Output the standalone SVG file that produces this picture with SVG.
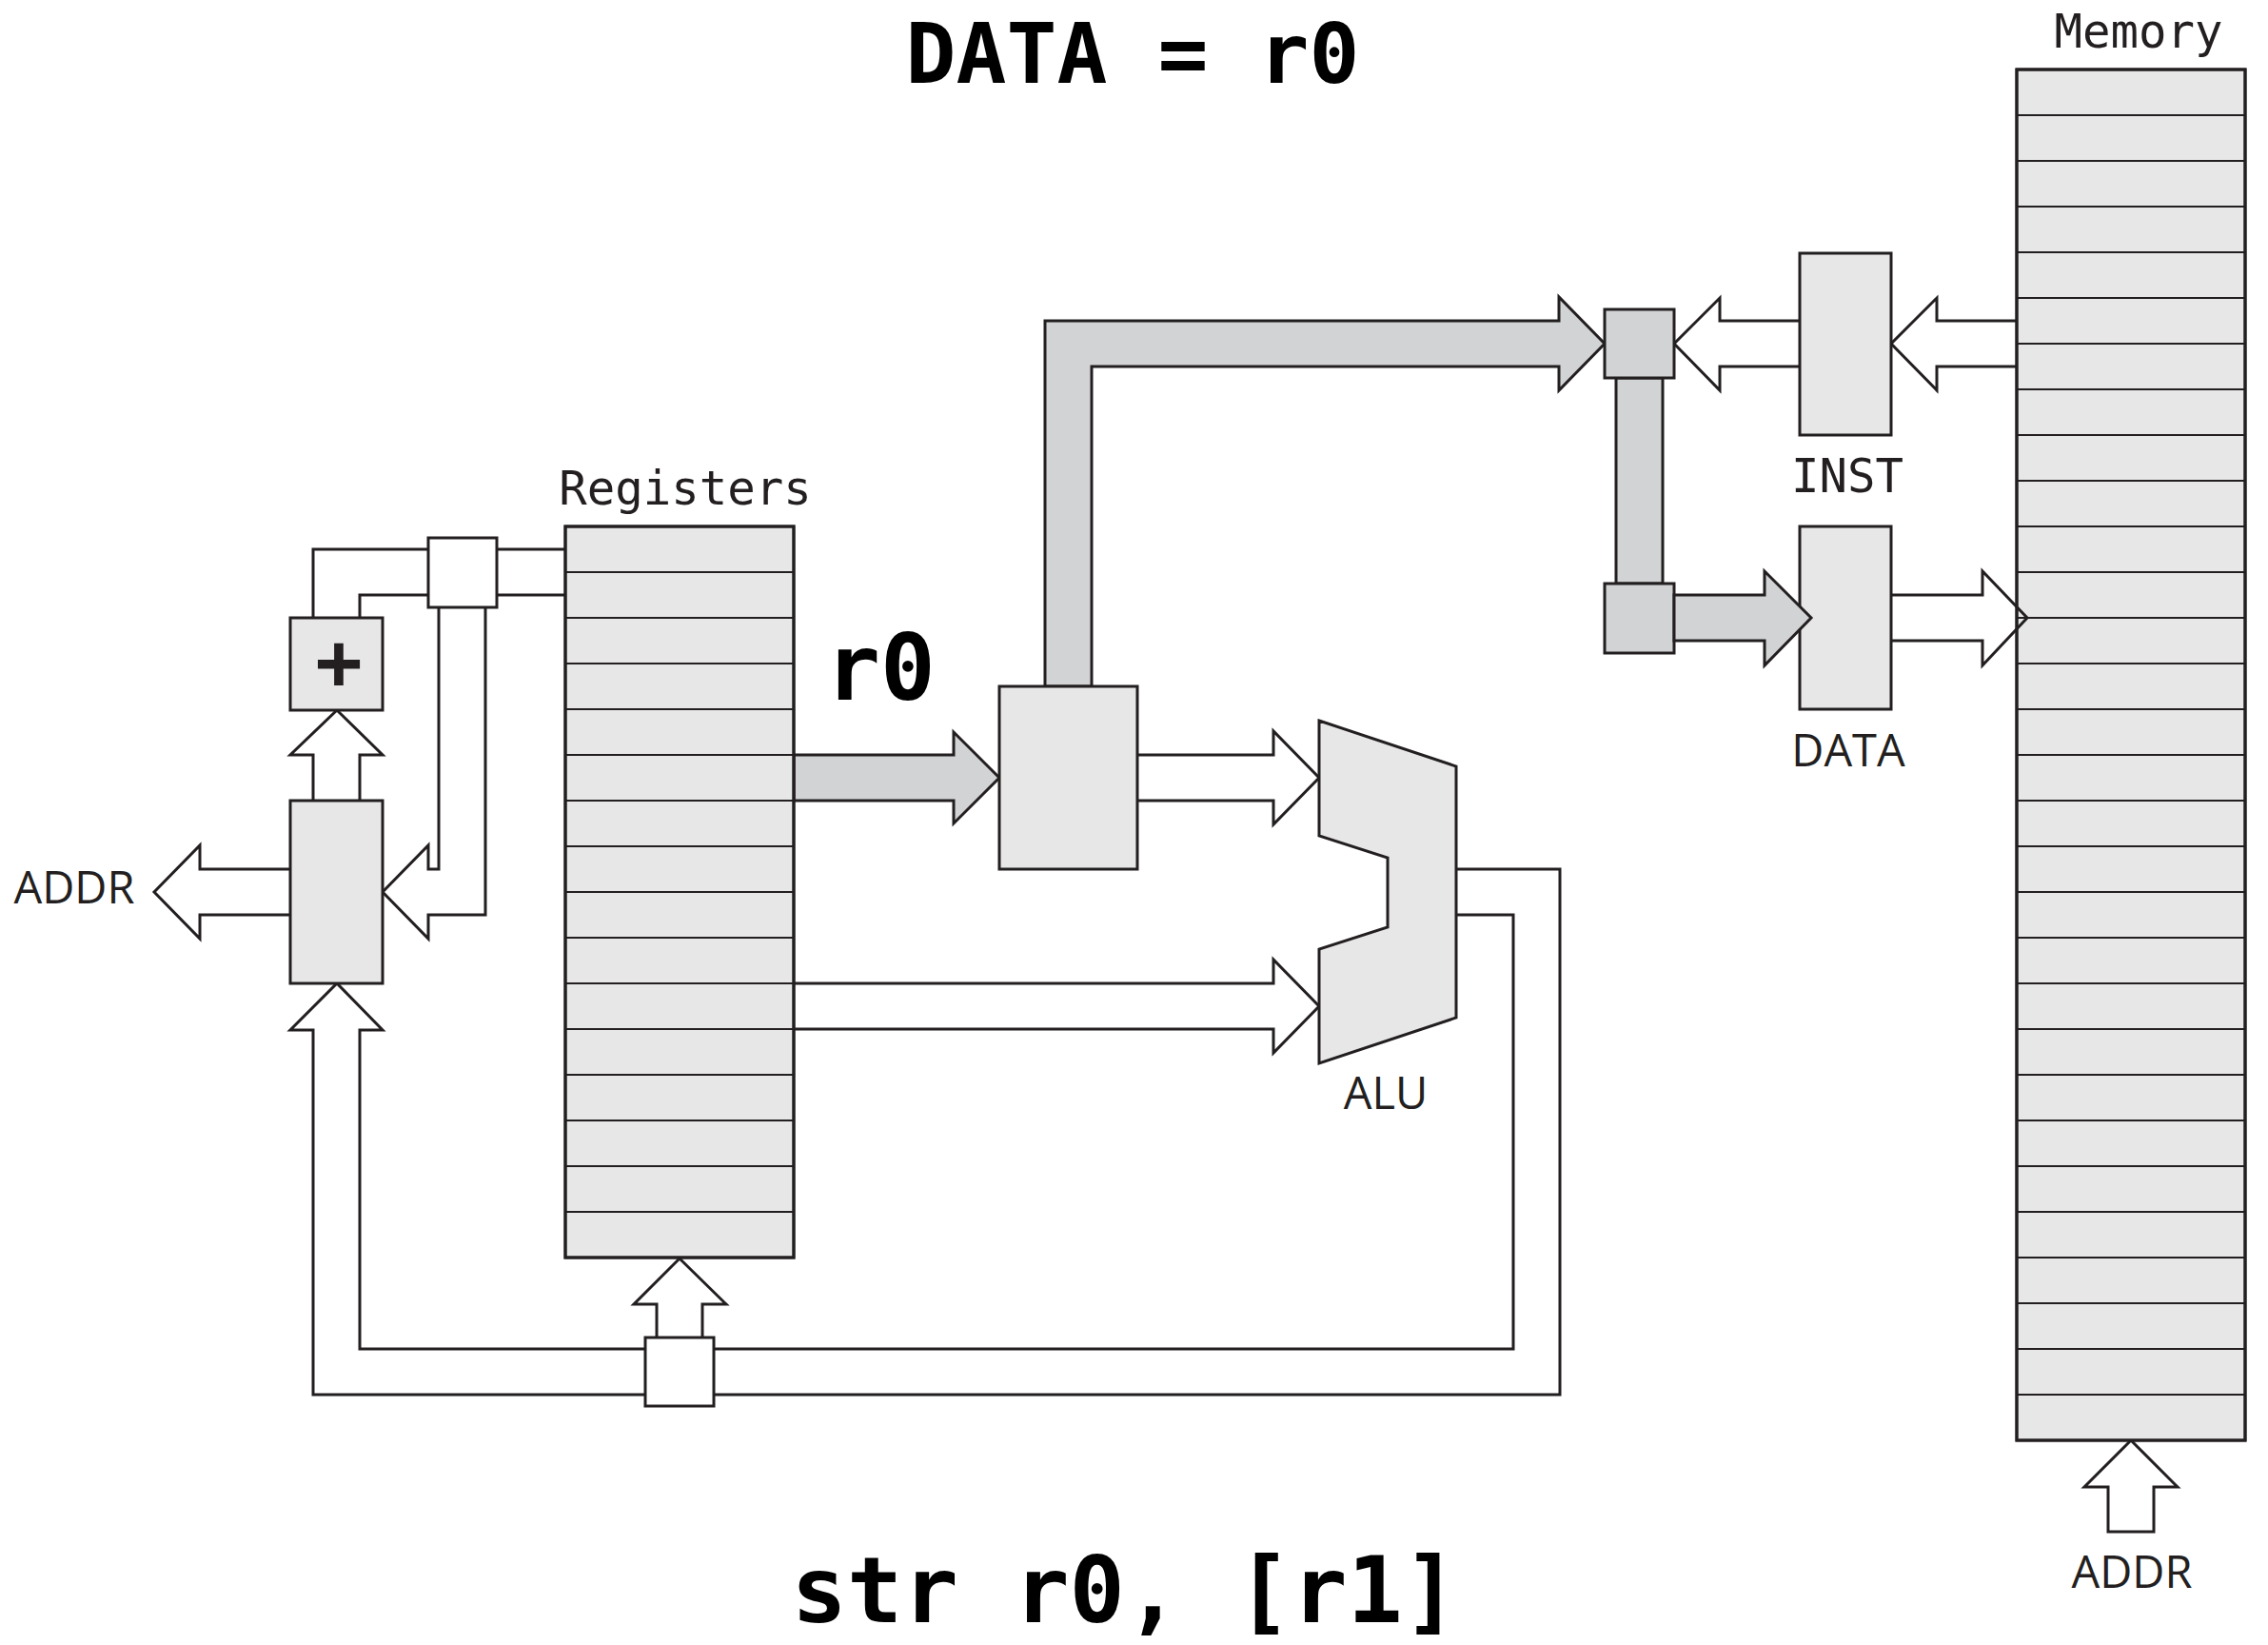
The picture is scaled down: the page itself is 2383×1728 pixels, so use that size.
<svg xmlns="http://www.w3.org/2000/svg" width="2383" height="1728" viewBox="0 0 2383 1728">
<style>
.box{fill:#e6e7e6;stroke:#231f20;stroke-width:3}
.gbox{fill:#d1d3d4;stroke:#231f20;stroke-width:3}
.wbox{fill:#ffffff;stroke:#231f20;stroke-width:3}
.row{stroke:#231f20;stroke-width:2.2}
.ln{fill:none;stroke:#231f20;stroke-width:3;stroke-linejoin:miter}
.gar{fill:#d1d3d4;stroke:#231f20;stroke-width:3;stroke-linejoin:miter}
.mono{font-family:"DejaVu Sans Mono","Liberation Mono",monospace;fill:#231f20}
.sans{font-family:"Open Sans","Noto Sans",sans-serif;fill:#231f20}
.big{font-family:"DejaVu Sans Mono","Liberation Mono",monospace;font-weight:bold;fill:#000}
</style>
<rect width="2383" height="1728" fill="#ffffff"/>

<g id="connectors">
  <polygon class="gar" points="1098,721 1098,337 1638,337 1638,312 1686,361 1638,410 1638,385 1147,385 1147,721"/>
  <polygon class="gar" points="834,793 1002,793 1002,769 1050,817 1002,865 1002,841 834,841"/>
  <path class="ln" d="M1195 793 H1338 V768 L1386 817 L1338 866 V841 H1195"/>
  <path class="ln" d="M834 1033 H1338 V1008 L1386 1057 L1338 1106 V1081 H834"/>
  <path class="ln" d="M1530 913 H1639 V1465 H329 V1082 H305 L354 1033 L402 1082 H378 V1417 H1590 V961 H1530"/>
  <path class="ln" d="M690 1405 V1370 H666 L714 1322 L763 1370 H738 V1405"/>
  <path class="ln" d="M450 577 H329 V649"/>
  <path class="ln" d="M450 625 H378 V649"/>
  <path class="ln" d="M522 577 H594"/>
  <path class="ln" d="M522 625 H594"/>
  <path class="ln" d="M461 638 V913 H450 V888 L402 937 L450 986 V961 H510 V638"/>
  <path class="ln" d="M329 841 V793 H305 L354 746 L402 793 H378 V841"/>
  <path class="ln" d="M305 913 H210 V888 L162 937 L210 986 V961 H305"/>
  <path class="ln" d="M2118 337 H2035 V313 L1987 361 L2035 410 V385 H2118"/>
  <path class="ln" d="M1891 337 H1807 V313 L1759 361 L1807 410 V385 H1891"/>
  <rect class="gbox" x="1698" y="397" width="49" height="216"/>
  <path class="ln" d="M2215 1609 V1562 H2190 L2239 1513 L2288 1562 H2263 V1609 Z"/>
</g>

<g id="registers">
  <rect class="box" x="594" y="553" width="240" height="768"/>
  <g class="row">
    <line x1="594" y1="601" x2="834" y2="601"/><line x1="594" y1="649" x2="834" y2="649"/>
    <line x1="594" y1="697" x2="834" y2="697"/><line x1="594" y1="745" x2="834" y2="745"/>
    <line x1="594" y1="793" x2="834" y2="793"/><line x1="594" y1="841" x2="834" y2="841"/>
    <line x1="594" y1="889" x2="834" y2="889"/><line x1="594" y1="937" x2="834" y2="937"/>
    <line x1="594" y1="985" x2="834" y2="985"/><line x1="594" y1="1033" x2="834" y2="1033"/>
    <line x1="594" y1="1081" x2="834" y2="1081"/><line x1="594" y1="1129" x2="834" y2="1129"/>
    <line x1="594" y1="1177" x2="834" y2="1177"/><line x1="594" y1="1225" x2="834" y2="1225"/>
    <line x1="594" y1="1273" x2="834" y2="1273"/>
  </g>
  <rect x="594" y="553" width="240" height="768" fill="none" stroke="#231f20" stroke-width="3"/>
  <text class="mono" x="720" y="530" font-size="49" text-anchor="middle">Registers</text>
</g>

<g id="memory">
  <rect class="box" x="2119" y="73" width="240" height="1440"/>
  <g class="row">
    <line x1="2119" y1="121" x2="2359" y2="121"/><line x1="2119" y1="169" x2="2359" y2="169"/>
    <line x1="2119" y1="217" x2="2359" y2="217"/><line x1="2119" y1="265" x2="2359" y2="265"/>
    <line x1="2119" y1="313" x2="2359" y2="313"/><line x1="2119" y1="361" x2="2359" y2="361"/>
    <line x1="2119" y1="409" x2="2359" y2="409"/><line x1="2119" y1="457" x2="2359" y2="457"/>
    <line x1="2119" y1="505" x2="2359" y2="505"/><line x1="2119" y1="553" x2="2359" y2="553"/>
    <line x1="2119" y1="601" x2="2359" y2="601"/><line x1="2119" y1="649" x2="2359" y2="649"/>
    <line x1="2119" y1="697" x2="2359" y2="697"/><line x1="2119" y1="745" x2="2359" y2="745"/>
    <line x1="2119" y1="793" x2="2359" y2="793"/><line x1="2119" y1="841" x2="2359" y2="841"/>
    <line x1="2119" y1="889" x2="2359" y2="889"/><line x1="2119" y1="937" x2="2359" y2="937"/>
    <line x1="2119" y1="985" x2="2359" y2="985"/><line x1="2119" y1="1033" x2="2359" y2="1033"/>
    <line x1="2119" y1="1081" x2="2359" y2="1081"/><line x1="2119" y1="1129" x2="2359" y2="1129"/>
    <line x1="2119" y1="1177" x2="2359" y2="1177"/><line x1="2119" y1="1225" x2="2359" y2="1225"/>
    <line x1="2119" y1="1273" x2="2359" y2="1273"/><line x1="2119" y1="1321" x2="2359" y2="1321"/>
    <line x1="2119" y1="1369" x2="2359" y2="1369"/><line x1="2119" y1="1417" x2="2359" y2="1417"/>
    <line x1="2119" y1="1465" x2="2359" y2="1465"/>
  </g>
  <rect x="2119" y="73" width="240" height="1440" fill="none" stroke="#231f20" stroke-width="3"/>
  <text class="mono" x="2247" y="50" font-size="49" text-anchor="middle">Memory</text>
  <text class="sans" x="2240" y="1668" font-size="47" text-anchor="middle">ADDR</text>
</g>

<g id="data-to-memory">
  <path class="ln" d="M1987 625 H2083 V600 L2130 649 L2083 699 V673 H1987"/>
</g>

<g id="pc-mux">
  <rect class="box" x="305" y="841" width="97" height="192"/>
  <text class="sans" x="78" y="949" font-size="47" text-anchor="middle">ADDR</text>
</g>

<g id="adder">
  <rect class="box" x="305" y="649" width="97" height="97"/>
  <text x="356" y="727" font-family="Liberation Sans, Arial, sans-serif" font-weight="bold" font-size="88" text-anchor="middle" fill="#231f20">+</text>
</g>

<g id="top-left-node">
  <rect class="wbox" x="450" y="565" width="72" height="73"/>
</g>

<g id="bottom-node">
  <rect class="wbox" x="678" y="1405" width="72" height="72"/>
</g>

<g id="latch">
  <rect class="box" x="1050" y="721" width="145" height="192"/>
  <text class="big" x="925" y="735" font-size="96" text-anchor="middle">r0</text>
</g>

<g id="alu">
  <polygon class="box" points="1386,757 1530,805 1530,1069 1386,1117 1386,997 1458,974 1458,901 1386,878"/>
  <text class="sans" x="1456" y="1165" font-size="47" text-anchor="middle">ALU</text>
</g>

<g id="top-gray-node">
  <rect class="gbox" x="1686" y="325" width="73" height="72"/>
</g>

<g id="bottom-gray-node">
  <rect class="gbox" x="1686" y="613" width="73" height="73"/>
</g>

<g id="inst">
  <rect class="box" x="1891" y="266" width="96" height="191"/>
  <text class="mono" x="1941" y="517" font-size="49" text-anchor="middle">INST</text>
</g>

<g id="data">
  <rect class="box" x="1891" y="553" width="96" height="192"/>
  <polygon class="gar" points="1759,625 1854,625 1854,600 1903,649 1854,699 1854,673 1759,673"/>
  <text class="sans" x="1942" y="805" font-size="47" text-anchor="middle">DATA</text>
</g>

<g id="titles">
  <text class="big" x="1190" y="87" font-size="88" text-anchor="middle">DATA = r0</text>
  <text class="big" x="1182" y="1704" font-size="97" text-anchor="middle">str r0, [r1]</text>
</g>
</svg>
